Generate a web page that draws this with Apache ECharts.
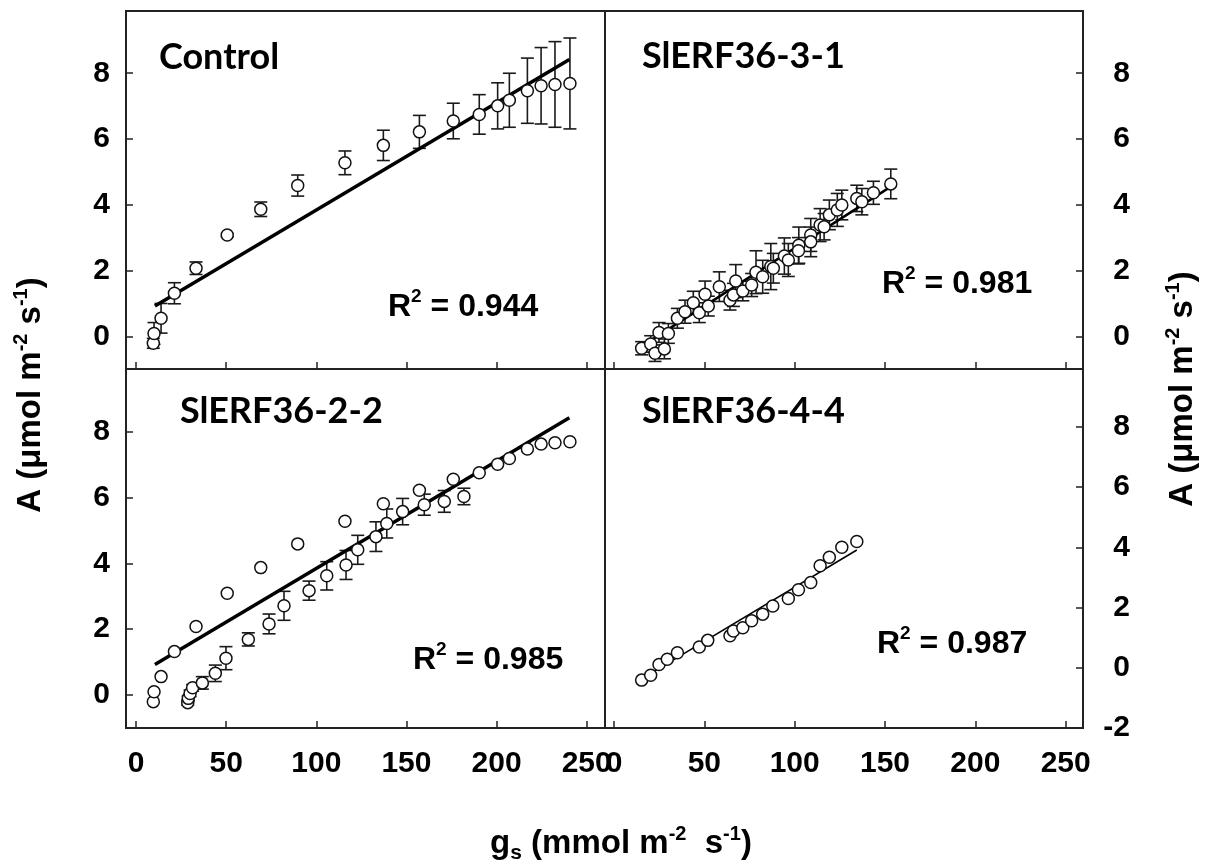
<!DOCTYPE html>
<html>
<head>
<meta charset="utf-8">
<script src="https://cdn.jsdelivr.net/npm/echarts@6/dist/echarts.min.js"></script>
<style>
  html, body { margin: 0; padding: 0; background: #fff; }
  #chart { width: 1211px; height: 867px; }
</style>
</head>
<body>
<div id="chart"></div>
<script>
// tick values shared by every panel
const xTicks = [0, 50, 100, 150, 200, 250];
const yTicks = [0, 2, 4, 6, 8];
const yTicksLow = [-2, 0, 2, 4, 6, 8];

// Control (bars in top-left, repeated without bars in bottom-left)
const controlX = [9.6, 10.0, 13.9, 21.3, 33.3, 50.6, 69.2, 89.7, 115.9, 137.2, 157.2, 176.0, 190.4, 200.6, 207.1, 217.1, 224.7, 232.4, 240.7];
const controlY = [-0.2, 0.1, 0.56, 1.32, 2.08, 3.09, 3.87, 4.59, 5.28, 5.81, 6.22, 6.55, 6.75, 7.01, 7.18, 7.47, 7.62, 7.66, 7.69];
const controlErr = [0.15, 0.33, 0.45, 0.32, 0.19, 0.05, 0.22, 0.32, 0.36, 0.46, 0.5, 0.54, 0.6, 0.7, 0.82, 0.99, 1.16, 1.3, 1.38];
const controlFitX = [10.5, 240.4];
const controlFitY = [0.93, 8.42];

// SlERF36-3-1
const l31X = [15.3, 20.3, 22.7, 27.9, 24.9, 30.1, 35.1, 39.3, 43.9, 47.2, 50.4, 52.2, 58.3, 64.2, 66.1, 67.4, 71.3, 76.2, 78.6, 82.3, 86.8, 88.2, 94.3, 96.5, 102.3, 102.1, 108.9, 108.9, 114.1, 116.3, 119.2, 123.6, 126.1, 134.4, 137.2, 143.6, 153.2];
const l31Y = [-0.35, -0.22, -0.5, -0.37, 0.13, 0.1, 0.56, 0.76, 1.03, 0.73, 1.29, 0.93, 1.52, 1.11, 1.27, 1.69, 1.39, 1.57, 1.96, 1.82, 2.13, 2.08, 2.45, 2.33, 2.78, 2.61, 3.09, 2.88, 3.39, 3.34, 3.7, 3.85, 4.0, 4.2, 4.1, 4.37, 4.64];
const l31Err = [0.2, 0.25, 0.25, 0.3, 0.3, 0.3, 0.3, 0.35, 0.35, 0.3, 0.4, 0.3, 0.45, 0.3, 0.35, 0.5, 0.3, 0.35, 0.65, 0.5, 0.7, 0.45, 0.55, 0.5, 0.55, 0.4, 0.5, 0.45, 0.5, 0.4, 0.45, 0.5, 0.45, 0.4, 0.4, 0.35, 0.45];
const l31FitX = [15, 153];
const l31FitY = [-0.3, 4.55];

// SlERF36-2-2
const l22X = [28.7, 29.0, 30.0, 31.4, 36.8, 44.0, 49.9, 62.3, 73.8, 82.1, 96.0, 105.8, 116.5, 123.0, 133.1, 139.1, 147.9, 159.9, 171.0, 181.9];
const l22Y = [-0.23, -0.1, 0.05, 0.22, 0.37, 0.66, 1.12, 1.69, 2.16, 2.71, 3.17, 3.62, 3.95, 4.41, 4.81, 5.21, 5.57, 5.78, 5.88, 6.03];
const l22Err = [0.08, 0.08, 0.1, 0.1, 0.19, 0.25, 0.35, 0.2, 0.3, 0.44, 0.29, 0.43, 0.44, 0.44, 0.45, 0.44, 0.4, 0.32, 0.33, 0.25];

// SlERF36-4-4
const l44X = [15.3, 20.3, 24.9, 29.5, 35.1, 47.2, 51.9, 64.2, 66.1, 71.3, 76.2, 82.3, 87.9, 96.5, 102.1, 108.9, 114.1, 119.2, 126.1, 134.4];
const l44Y = [-0.41, -0.25, 0.11, 0.28, 0.5, 0.69, 0.91, 1.06, 1.22, 1.33, 1.56, 1.78, 2.05, 2.3, 2.59, 2.83, 3.39, 3.67, 4.0, 4.19];
const l44FitX = [20.9, 134.4];
const l44FitY = [-0.17, 3.91];

const R2 = ['0.944', '0.981', '0.985', '0.987'];

const arial = 'Liberation Sans, Arial, sans-serif';
const frame = '#222';

function pairs(xs, ys) {
  return xs.map((x, i) => [x, ys[i]]);
}

function xAxisFor(gridIndex, min, max, showLabels) {
  return {
    type: 'value', gridIndex, min, max,
    axisLine: { show: true, onZero: false, lineStyle: { color: frame, width: 2 } },
    axisTick: { show: true, inside: true, length: 7, customValues: xTicks, lineStyle: { color: frame, width: 1.5 } },
    axisLabel: { show: showLabels, customValues: xTicks, margin: 21, fontFamily: arial, fontWeight: 'bold', fontSize: 30, color: '#000' },
    splitLine: { show: false },
  };
}

function yAxisFor(gridIndex, min, max, side, ticks) {
  const right = side === 'right';
  return {
    type: 'value', gridIndex, min, max, position: side,
    axisLine: { show: true, onZero: false, lineStyle: { color: frame, width: 2 } },
    axisTick: { show: true, inside: true, length: 7, customValues: ticks, lineStyle: { color: frame, width: 1.5 } },
    axisLabel: {
      customValues: ticks, margin: right ? 47 : 16, align: 'right',
      fontFamily: arial, fontWeight: 'bold', fontSize: 30, color: '#000',
    },
    splitLine: { show: false },
  };
}

function errorBars(xs, ys, errs, idx) {
  return {
    type: 'custom', xAxisIndex: idx, yAxisIndex: idx, z: 2, silent: true,
    data: xs.map((x, i) => [x, ys[i] - errs[i], ys[i] + errs[i]]),
    encode: { x: 0, y: [1, 2] },
    renderItem: (params, api) => {
      const lo = api.coord([api.value(0), api.value(1)]);
      const hi = api.coord([api.value(0), api.value(2)]);
      const w = 6.5;
      const style = { stroke: '#1a1a1a', lineWidth: 1.6 };
      return {
        type: 'group',
        children: [
          { type: 'line', shape: { x1: lo[0], y1: lo[1], x2: hi[0], y2: hi[1] }, style },
          { type: 'line', shape: { x1: lo[0] - w, y1: lo[1], x2: lo[0] + w, y2: lo[1] }, style },
          { type: 'line', shape: { x1: hi[0] - w, y1: hi[1], x2: hi[0] + w, y2: hi[1] }, style },
        ],
      };
    },
  };
}

function points(xs, ys, idx) {
  return {
    type: 'scatter', xAxisIndex: idx, yAxisIndex: idx, z: 4, silent: true,
    symbol: 'circle', symbolSize: 12,
    itemStyle: { color: '#fff', borderColor: '#111', borderWidth: 1.5, opacity: 1 },
    data: pairs(xs, ys),
  };
}

function fitLine(xs, ys, idx, width) {
  return {
    type: 'line', xAxisIndex: idx, yAxisIndex: idx, z: 3, silent: true,
    showSymbol: false, symbol: 'none',
    lineStyle: { color: '#000', width },
    data: pairs(xs, ys),
  };
}

const richMain = { fontFamily: arial, fontWeight: 'bold', fill: '#000' };

function r2Text(x, y, value) {
  return {
    type: 'text', x, y, z: 10,
    style: {
      text: '{m|R}{s|2}{m| = ' + value + '}',
      align: 'left', verticalAlign: 'middle',
      rich: {
        m: Object.assign({ fontSize: 32, lineHeight: 40, verticalAlign: 'middle' }, richMain),
        s: Object.assign({ fontSize: 19, lineHeight: 19, verticalAlign: 'top' }, richMain),
      },
    },
  };
}

function panelLabel(x, y, text) {
  return {
    type: 'text', x, y, z: 10,
    style: {
      text, align: 'left', verticalAlign: 'middle', fill: '#000',
      fontFamily: 'Lato, Open Sans, sans-serif', fontWeight: 'bold', fontSize: 36,
    },
  };
}

const titleRich = {
  m: Object.assign({ fontSize: 33, lineHeight: 40, verticalAlign: 'middle' }, richMain),
  s: Object.assign({ fontSize: 20, lineHeight: 20, verticalAlign: 'top' }, richMain),
  b: Object.assign({ fontSize: 21, lineHeight: 8, verticalAlign: 'bottom' }, richMain),
};

function yTitle(x, y) {
  return {
    type: 'text', x, y, rotation: Math.PI / 2, z: 10,
    style: {
      text: '{m|A (μmol m}{s|-2}{m| s}{s|-1}{m|)}',
      align: 'center', verticalAlign: 'middle', rich: titleRich,
    },
  };
}

const chart = echarts.init(document.getElementById('chart'), null, { renderer: 'canvas' });

const gridBase = { show: true, borderColor: frame, borderWidth: 2, backgroundColor: 'transparent', containLabel: false };

chart.setOption({
  backgroundColor: '#fff',
  animation: false,
  grid: [
    Object.assign({ left: 126, top: 11, width: 479, height: 358 }, gridBase),
    Object.assign({ left: 605, top: 11, width: 478, height: 358 }, gridBase),
    Object.assign({ left: 126, top: 369, width: 479, height: 359 }, gridBase),
    Object.assign({ left: 605, top: 369, width: 478, height: 359 }, gridBase),
  ],
  xAxis: [
    xAxisFor(0, -5.55, 260.15, false),
    xAxisFor(1, -4.98, 259.6, false),
    xAxisFor(2, -5.55, 260.15, true),
    xAxisFor(3, -4.98, 259.6, true),
  ],
  yAxis: [
    yAxisFor(0, -0.98, 9.89, 'left', yTicks),
    yAxisFor(1, -0.98, 9.89, 'right', yTicks),
    yAxisFor(2, -1.0, 9.9, 'left', yTicks),
    yAxisFor(3, -2.0, 9.92, 'right', yTicksLow),
  ],
  series: [
    errorBars(controlX, controlY, controlErr, 0),
    fitLine(controlFitX, controlFitY, 0, 3.5),
    points(controlX, controlY, 0),

    errorBars(l31X, l31Y, l31Err, 1),
    fitLine(l31FitX, l31FitY, 1, 2.5),
    points(l31X, l31Y, 1),

    errorBars(l22X, l22Y, l22Err, 2),
    fitLine(controlFitX, controlFitY, 2, 3.5),
    points(controlX, controlY, 2),
    points(l22X, l22Y, 2),

    fitLine(l44FitX, l44FitY, 3, 1.5),
    points(l44X, l44Y, 3),
  ],
  graphic: [
    panelLabel(159, 57, 'Control'),
    panelLabel(642, 56, 'SlERF36-3-1'),
    panelLabel(180, 411, 'SlERF36-2-2'),
    panelLabel(642, 411, 'SlERF36-4-4'),
    r2Text(388, 307, R2[0]),
    r2Text(882, 284, R2[1]),
    r2Text(413, 660, R2[2]),
    r2Text(877, 644, R2[3]),
    yTitle(31, 395),
    yTitle(1183, 389),
    {
      type: 'text', x: 621, y: 844, z: 10,
      style: {
        text: '{m|g}{b|s}{m| (mmol m}{s|-2}{m|  s}{s|-1}{m|)}',
        align: 'center', verticalAlign: 'middle', rich: titleRich,
      },
    },
  ],
});
</script>
</body>
</html>
